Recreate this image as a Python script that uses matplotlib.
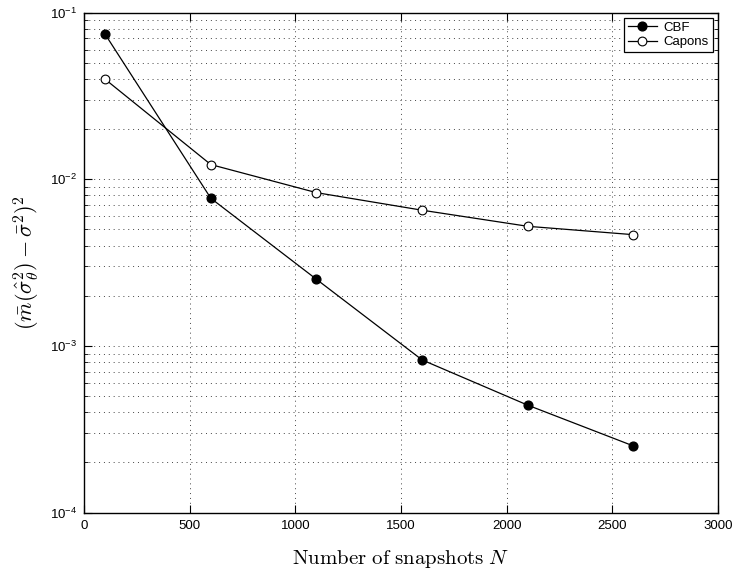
import matplotlib
matplotlib.use("Agg")
import matplotlib.pyplot as plt
from matplotlib.ticker import LogLocator, NullFormatter, FixedLocator

plt.rcParams['mathtext.fontset'] = 'cm'
plt.rcParams['font.family'] = ['Liberation Sans', 'DejaVu Sans']

snapshots = [100, 600, 1100, 1600, 2100, 2600]
cbf = [0.0741, 0.00769, 0.00251, 0.000824, 0.000441, 0.000251]
capons = [0.0398, 0.01225, 0.00831, 0.00652, 0.00522, 0.00465]
xticks = [0, 500, 1000, 1500, 2000, 2500, 3000]

fig = plt.figure(figsize=(7.35, 5.77), dpi=100)
ax = fig.add_axes([0.1143, 0.1116, 0.8626, 0.8666])

ax.semilogy(snapshots, cbf, '-o', color='black', mfc='black', mec='black',
            lw=0.9, ms=6.3, label='CBF')
ax.semilogy(snapshots, capons, '-o', color='black', mfc='white', mec='black',
            lw=0.9, ms=6.3, mew=0.8, label='Capons')

ax.set_xlim(0, 3000)
ax.set_ylim(1e-4, 1e-1)
ax.xaxis.set_major_locator(FixedLocator(xticks))
ax.yaxis.set_major_locator(LogLocator(base=10, numticks=10))
ax.yaxis.set_minor_locator(LogLocator(base=10, subs=range(2, 10), numticks=20))
ax.yaxis.set_minor_formatter(NullFormatter())

ax.grid(True, which='major', axis='both', linestyle=(0, (1, 4)), color='#444444', lw=0.7)
ax.grid(True, which='minor', axis='y', linestyle=(0, (1, 4)), color='#444444', lw=0.7)

ax.tick_params(which='both', direction='in', top=True, right=True, labelsize=9.5)
ax.tick_params(which='major', length=6, width=0.8, pad=5)
ax.tick_params(which='minor', length=3, width=0.6)
for s in ax.spines.values():
    s.set_linewidth(1.0)

ax.set_xlabel(r'$\mathrm{Number\ of\ snapshots}\ N$', fontsize=15, labelpad=12)
ax.set_ylabel(r'$(\bar{m}(\hat{\sigma}_\theta^2) - \bar{\sigma}^2)^2$', fontsize=16, labelpad=6)

leg = ax.legend(loc='upper right', fontsize=9.5, fancybox=False, framealpha=1,
                edgecolor='black', handlelength=2.2, borderaxespad=0.4,
                borderpad=0.3, labelspacing=0.15, handletextpad=0.5)
leg.get_frame().set_linewidth(0.9)

fig.savefig('out.png', dpi=100)
